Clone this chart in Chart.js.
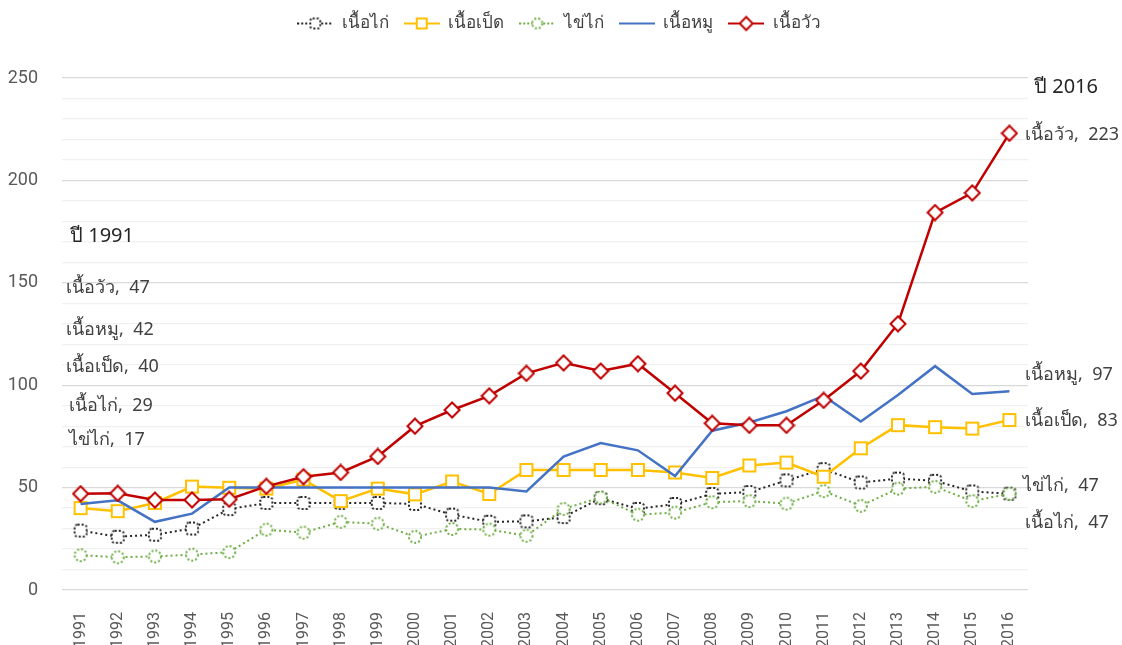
<!DOCTYPE html>
<html>
<head>
<meta charset="utf-8">
<script src="https://cdn.jsdelivr.net/npm/chart.js@4.4.0/dist/chart.umd.min.js"></script>
<style>
  html, body { margin: 0; padding: 0; background: #fff; }
  #wrap { width: 1122px; height: 645px; }
</style>
</head>
<body>
<div id="wrap"><canvas id="foodChart" width="1122" height="645"></canvas></div>
<script>
// ข้อมูล
const years = ['1991','1992','1993','1994','1995','1996','1997','1998','1999','2000','2001','2002','2003',
  '2004','2005','2006','2007','2008','2009','2010','2011','2012','2013','2014','2015','2016'];
const seriesNames = ['เนื้อไก่', 'เนื้อเป็ด', 'ไข่ไก่', 'เนื้อหมู', 'เนื้อวัว'];
const chicken = [29, 26, 27, 30, 39.5, 42.5, 42.5, 42.5, 42.5, 42, 36.8, 33.3, 33.5, 35.6, 44.8, 39.6, 42, 46.9, 47.8, 53.5, 59, 52.5, 54.4, 53.3, 48.1, 47];
const duck    = [40, 38.5, 42.5, 50.5, 49.9, 49.5, 53.9, 43.4, 49.5, 46.7, 53, 46.9, 58.6, 58.6, 58.6, 58.6, 57.4, 54.7, 60.8, 62.2, 55.3, 69.2, 80.5, 79.5, 78.8, 83];
const egg     = [17, 16, 16.4, 17.3, 18.5, 29.5, 28, 33.3, 32.4, 26, 29.8, 29.5, 26.5, 39.6, 45.2, 36.8, 37.8, 42.9, 43.4, 42.2, 48.3, 41.1, 49.5, 50.4, 43.4, 47];
const pork    = [42, 43.8, 33.3, 37.3, 50, 50, 50, 50, 50, 50, 50, 50, 48.1, 65.2, 71.8, 68.2, 55.6, 77.8, 81.8, 87.3, 94.8, 82.3, 95.2, 109.3, 95.7, 97];
const beef    = [47, 47.2, 43.9, 44, 44.3, 50.6, 55.3, 57.4, 65.2, 80, 87.9, 94.8, 105.8, 110.9, 106.9, 110.5, 96.1, 81.4, 80.4, 80.4, 92.6, 106.9, 130, 184.3, 193.9, 223];
const yTicks = [0, 50, 100, 150, 200, 250];

const allValues = [chicken, duck, egg, pork, beef];
const colors = ['#262626', '#ffc000', '#70ad47', '#4472c4', '#c00000'];

// วาดสัญลักษณ์จุด
function makeMarker(kind, color, dashed, s) {
  s = s || 12;
  const p = 3, w = s + p * 2;
  const c = document.createElement('canvas');
  c.width = w; c.height = w;
  const g = c.getContext('2d');
  g.fillStyle = '#fff';
  g.strokeStyle = color;
  g.lineWidth = 2;
  if (dashed) g.setLineDash([2, 2]);
  g.beginPath();
  const m = w / 2, r = s / 2;
  if (kind === 'square') g.rect(p, p, s, s);
  else if (kind === 'rsquare') g.roundRect(p, p, s, s, s / 4);
  else if (kind === 'circle') g.arc(m, m, r, 0, Math.PI * 2);
  else if (kind === 'diamond') { g.moveTo(m, m - r - 1.5); g.lineTo(m + r + 1.5, m); g.lineTo(m, m + r + 1.5); g.lineTo(m - r - 1.5, m); g.closePath(); }
  g.fill();
  g.stroke();
  return c;
}

// ไอคอนในคำอธิบาย
function makeLegendIcon(kind, color, dashed) {
  const c = document.createElement('canvas');
  c.width = 36; c.height = 18;
  const g = c.getContext('2d');
  g.strokeStyle = color;
  g.lineWidth = 2;
  if (dashed) g.setLineDash([2, 2]);
  g.beginPath(); g.moveTo(0, 9); g.lineTo(36, 9); g.stroke();
  if (kind !== 'none') {
    const mk = makeMarker(kind, color, dashed, 10);
    g.drawImage(mk, 18 - mk.width / 2, 9 - mk.height / 2);
  }
  return c;
}

const kinds = ['rsquare', 'square', 'circle', 'none', 'diamond'];
const dashedFlags = [true, false, true, false, false];

const datasets = seriesNames.map((name, i) => ({
  label: name,
  data: allValues[i],
  borderColor: colors[i],
  backgroundColor: '#fff',
  borderWidth: dashedFlags[i] ? 2 : 2.5,
  borderDash: dashedFlags[i] ? [2, 3] : [],
  pointStyle: kinds[i] === 'none' ? false : makeMarker(kinds[i], colors[i], dashedFlags[i]),
  pointRadius: kinds[i] === 'none' ? 0 : 7,
  tension: 0,
  order: 4 - i
}));

// ป้ายกำกับปี 1991 และ 2016
const leftNotes = [
  { text: 'ปี 1991', x: 70, v: 172.5, size: 20, color: '#262626' },
  { text: `${seriesNames[4]},  ${beef[0]}`, x: 66, v: 147.5 },
  { text: `${seriesNames[3]},  ${pork[0]}`, x: 66, v: 127 },
  { text: `${seriesNames[1]},  ${duck[0]}`, x: 66, v: 109 },
  { text: `${seriesNames[0]},  ${chicken[0]}`, x: 69, v: 90 },
  { text: `${seriesNames[2]},  ${egg[0]}`, x: 69, v: 73.5 }
];
const n = years.length - 1;
const rightNotes = [
  { text: 'ปี 2016', x: 1034, v: 245.5, size: 20, color: '#262626' },
  { text: `${seriesNames[4]},  ${beef[n]}`, x: 1025, v: 222 },
  { text: `${seriesNames[3]},  ${pork[n]}`, x: 1025, v: 105 },
  { text: `${seriesNames[1]},  ${duck[n]}`, x: 1025, v: 82.5 },
  { text: `${seriesNames[2]},  ${egg[n]}`, x: 1023, v: 51 },
  { text: `${seriesNames[0]},  ${chicken[n]}`, x: 1025, v: 33 }
];

const notesPlugin = {
  id: 'notes',
  afterDatasetsDraw(chart) {
    const ctx = chart.ctx;
    const ys = chart.scales.y;
    ctx.save();
    ctx.textBaseline = 'middle';
    ctx.textAlign = 'left';
    [...leftNotes, ...rightNotes].forEach(nt => {
      ctx.font = `${nt.size || 18}px "Noto Sans", sans-serif`;
      ctx.fillStyle = nt.color || '#404040';
      ctx.fillText(nt.text, nt.x, ys.getPixelForValue(nt.v));
    });
    ctx.restore();
  }
};

// เว้นที่ใต้คำอธิบาย และเลื่อนคำอธิบายไปกึ่งกลางภาพ
const legendGap = {
  id: 'legendGap',
  beforeLayout(chart) {
    const lg = chart.legend;
    if (lg && !lg._gapPatched) {
      const fit = lg.fit;
      const draw = lg.draw;
      lg.fit = function () { fit.call(this); this.height += 36; };
      lg.draw = function () {
        const c = this.ctx;
        c.save();
        c.translate(45, 0);
        draw.call(this);
        c.restore();
      };
      lg._gapPatched = true;
    }
  }
};

const ctx = document.getElementById('foodChart').getContext('2d');
const foodChart = new Chart(ctx, {
  type: 'line',
  data: { labels: years, datasets: datasets },
  options: {
    responsive: false,
    animation: false,
    layout: { padding: { top: 0, right: 94, left: 0, bottom: 0 } },
    plugins: {
      tooltip: { enabled: false },
      legend: {
        position: 'top',
        labels: {
          usePointStyle: true,
          pointStyleWidth: 36,
          boxHeight: 16,
          padding: 15,
          color: '#404040',
          font: { size: 17, family: '"Noto Sans", sans-serif' },
          generateLabels(chart) {
            return seriesNames.map((name, i) => ({
              text: name,
              datasetIndex: i,
              pointStyle: makeLegendIcon(kinds[i], colors[i], dashedFlags[i]),
              fillStyle: '#fff',
              strokeStyle: colors[i],
              lineWidth: 0,
              hidden: false,
              fontColor: '#404040'
            }));
          }
        }
      }
    },
    scales: {
      x: {
        offset: true,
        grid: { display: false },
        border: { display: false },
        ticks: {
          minRotation: 90, maxRotation: 90,
          color: '#595959',
          font: { size: 16, family: 'Roboto, sans-serif' },
          padding: 14
        },
        afterFit(scale) { scale.height = 55; }
      },
      y: {
        min: 0, max: 250,
        border: { display: false },
        grid: {
          color: c => (c.tick.value % 50 === 0 ? '#d9d9d9' : '#f0f0f0'),
          lineWidth: 1.2,
          drawTicks: false
        },
        ticks: {
          stepSize: 10,
          autoSkip: false,
          color: '#595959',
          font: { size: 18, family: 'Roboto, sans-serif' },
          padding: 24,
          callback: v => (yTicks.includes(v) ? v : '')
        },
        afterFit(scale) { scale.width = 62; }
      }
    }
  },
  plugins: [notesPlugin, legendGap]
});
</script>
</body>
</html>
